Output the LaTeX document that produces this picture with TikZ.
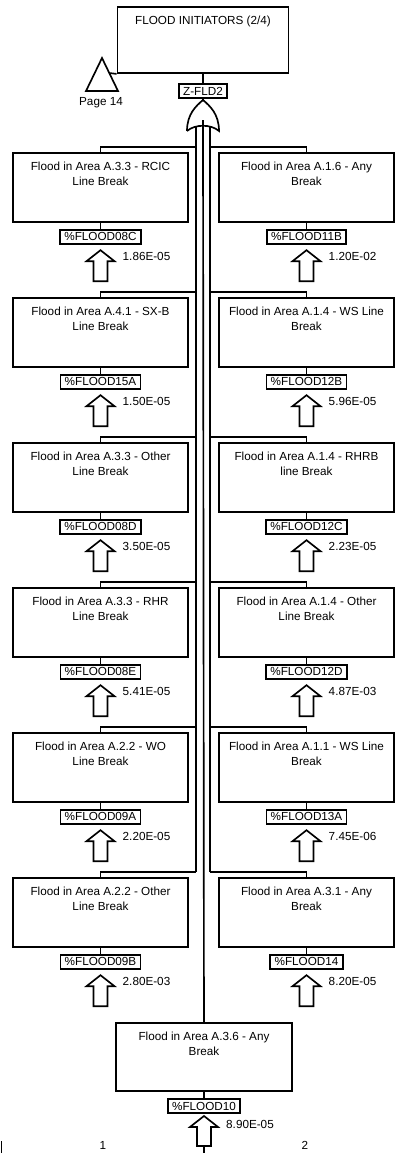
\documentclass[tikz,border=0pt]{standalone}
\usepackage{fontspec}
\setmainfont{Liberation Sans}
\usetikzlibrary{positioning}

\tikzset{
  evbox/.style={draw,line width=0.55mm,minimum width=52.5mm,minimum height=20.7mm,inner sep=0},
  evtext/.style={align=center,font=\fontsize{10}{12.8}\selectfont,inner sep=0},
  idbox/.style={draw,line width=0.5mm,font=\fontsize{10}{11}\selectfont,inner xsep=1.3mm,inner ysep=0.9mm},
  wire/.style={line width=0.5mm},
  valtext/.style={anchor=west,font=\fontsize{10}{11}\selectfont,inner sep=0}
}

\begin{document}
\begin{tikzpicture}[x=0.3mm,y=-0.3mm]
\useasboundingbox (0,0) rectangle (396,1153);
% top event + transfer
\node[evbox,minimum width=51.3mm,minimum height=19.8mm] (top) at (203,40) {};
\node[evtext,below=3mm of top.north] (toptext) {FLOOD INITIATORS (2/4)};
\draw[wire] (86,91) -- (118,91) -- (102,58) -- cycle;
\coordinate (tri) at (109.3,73);
\draw[wire] (tri) -- (top.south west);
\node[evtext] (page) at (101,103) {Page 14};
% OR gate
\node[idbox] (zfld) at (203,91) {Z-FLD2};
\draw[wire] (top) -- (zfld);
\coordinate (gtop) at (203,100);
\draw[wire] (zfld) -- (gtop);
\coordinate (gl) at (196,120);
\coordinate (gc) at (203,120);
\coordinate (gr) at (210,120);
% bus
\coordinate (bl6) at (196,872);
\coordinate (br6) at (210,872);
\draw[wire] (gl) -- (bl6);
\draw[wire] (gr) -- (br6);
\draw[wire,fill=white] (187,131) .. controls (187,114) and (196,106) .. (gtop)
  .. controls (210,106) and (219,114) .. (219,131)
  .. controls (211,124) and (195,124) .. (187,131);
% basic events, two columns
\foreach \i/\lt/\lid/\lp/\rt/\rid/\rp in {
  1/{Flood in Area A.3.3 - RCIC\\Line Break}/08C/1.86E-05/{Flood in Area A.1.6 - Any\\Break}/11B/1.20E-02,
  2/{Flood in Area A.4.1 - SX-B\\Line Break}/15A/1.50E-05/{Flood in Area A.1.4 - WS Line\\Break}/12B/5.96E-05,
  3/{Flood in Area A.3.3 - Other\\Line Break}/08D/3.50E-05/{Flood in Area A.1.4 - RHRB\\line Break}/12C/2.23E-05,
  4/{Flood in Area A.3.3 - RHR\\Line Break}/08E/5.41E-05/{Flood in Area A.1.4 - Other\\Line Break}/12D/4.87E-03,
  5/{Flood in Area A.2.2 - WO\\Line Break}/09A/2.20E-05/{Flood in Area A.1.1 - WS Line\\Break}/13A/7.45E-06,
  6/{Flood in Area A.2.2 - Other\\Line Break}/09B/2.80E-03/{Flood in Area A.3.1 - Any\\Break}/14/8.20E-05}{
  \pgfmathsetmacro\cy{153+145*(\i-1)+34.5}
  \pgfmathsetmacro\by{153+145*(\i-1)-6}
  % left
  \node[evbox] (L\i) at (100.5,\cy) {};
  \node[evtext,below=3mm of L\i.north] (Lt\i) {\lt};
  \node[idbox,below=1.8mm of L\i] (Lid\i) {\%FLOOD\lid};
  \draw[wire] (L\i) -- (Lid\i);
  \coordinate[below=1.6mm of Lid\i] (La\i);
  \draw[wire] (La\i) -- ++(14,11) -- ++(-7,0) -- ++(0,20) -- ++(-14,0) -- ++(0,-20) -- ++(-7,0) -- cycle;
  \path (La\i) ++(22,6) node[valtext] (Lv\i) {\lp};
  \coordinate (bl\i) at (196,\by);
  \draw[wire] (L\i.north) |- (bl\i);
  % right
  \node[evbox] (R\i) at (306.5,\cy) {};
  \node[evtext,below=3mm of R\i.north] (Rt\i) {\rt};
  \node[idbox,below=1.8mm of R\i] (Rid\i) {\%FLOOD\rid};
  \draw[wire] (R\i) -- (Rid\i);
  \coordinate[below=1.6mm of Rid\i] (Ra\i);
  \draw[wire] (Ra\i) -- ++(14,11) -- ++(-7,0) -- ++(0,20) -- ++(-14,0) -- ++(0,-20) -- ++(-7,0) -- cycle;
  \path (Ra\i) ++(22,6) node[valtext] (Rv\i) {\rp};
  \coordinate (br\i) at (210,\by);
  \draw[wire] (R\i.north) |- (br\i);
}
% last event below the bus
\node[evbox,minimum width=52.8mm,minimum height=20.4mm] (B) at (204,1057) {};
\node[evtext,below=3mm of B.north] (Bt) {Flood in Area A.3.6 - Any\\Break};
\draw[wire] (gc) -- (B);
\node[idbox] (Bid) at (204,1106) {\%FLOOD10};
\draw[wire] (B) -- (Bid);
\coordinate[below=0.6mm of Bid] (Ba);
\draw[wire] (Ba) -- ++(14,11) -- ++(-7,0) -- ++(0,19) -- ++(-14,0) -- ++(0,-19) -- ++(-7,0) -- cycle;
\path (Ba) ++(22,8) node[valtext] (Bv) {8.90E-05};
\coordinate (Bend) at (204,1153);
\draw[wire] (Ba) ++(0,30) -- (Bend);
% page columns
\node[evtext] (col1) at (103,1145) {1};
\node[evtext] (col2) at (305,1145) {2};
\coordinate (edge) at (1.5,1141);
\draw[wire] (edge) -- (1.5,1153);
\end{tikzpicture}
\end{document}
